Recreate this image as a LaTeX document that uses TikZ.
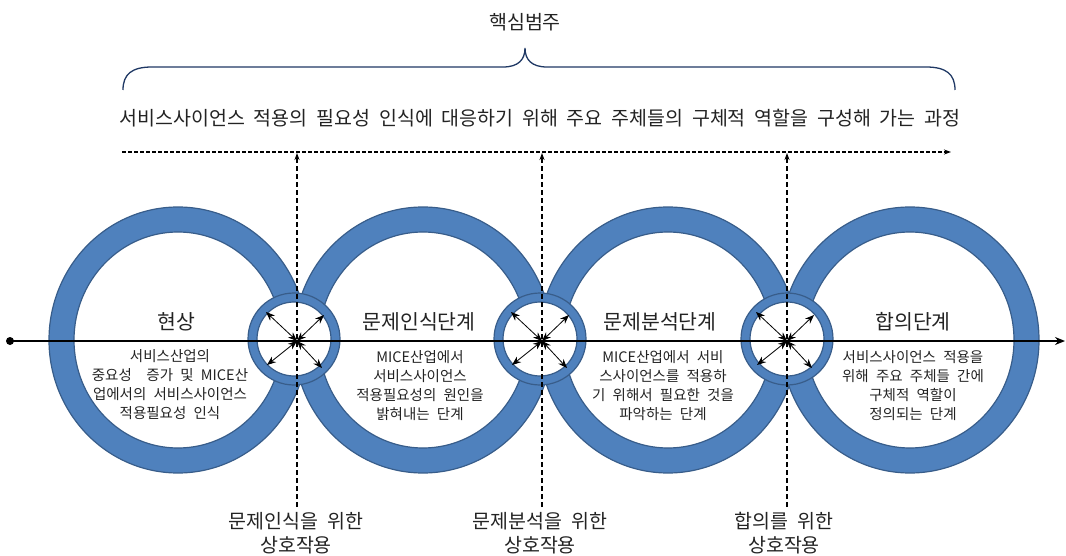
\documentclass[tikz,border=0pt]{standalone}
\usepackage{fontspec}
\setmainfont{Noto Sans CJK KR}
\usetikzlibrary{arrows.meta}
\definecolor{ringblue}{RGB}{79,129,189}
\definecolor{ringedge}{RGB}{56,93,138}
\definecolor{bracec}{RGB}{31,56,100}
\definecolor{txt}{RGB}{35,35,35}
\begin{document}
\begin{tikzpicture}[x=1pt,y=1pt,
  bigring/.style={fill=ringblue, draw=ringedge, line width=1.2pt, even odd rule},
  smallring/.style={fill=ringblue, draw=ringedge, line width=1.2pt, even odd rule},
  titletext/.style={inner sep=0pt, text=txt, font={\fontsize{20.5}{24}\selectfont\spaceskip=0.45em\relax}},
  bigtext/.style={inner sep=0pt, text=txt, align=center, font={\fontsize{19.5}{24}\selectfont\spaceskip=0.45em\relax}},
  bodytext/.style={inner sep=0pt, text=txt, align=center, font={\fontsize{14.5}{19}\selectfont\spaceskip=0.5em\relax}},
  dashv/.style={line width=1.1pt, dash pattern=on 5pt off 3pt, -{Stealth[length=7pt,width=5pt]}},
  dashh/.style={line width=1.1pt, dash pattern=on 4pt off 2pt, -{Stealth[length=7pt,width=5pt]}},
  dbl/.style={line width=0.8pt, draw=black, {Stealth[length=9pt,width=7pt]}-{Stealth[length=9pt,width=7pt]}}
]
\useasboundingbox (0,0) rectangle (1066,-556);

% big rings
\foreach \cx in {178,423,668,910}{
  \path[bigring] (\cx,-340) ellipse [x radius=129, y radius=133]
                 (\cx,-340) ellipse [x radius=104, y radius=108];
}
% small rings
\foreach \cx in {294,540,787}{
  \path[fill=white] (\cx,-339) circle [radius=45];
  \path[smallring] (\cx,-339) circle [radius=46] (\cx,-339) circle [radius=37];
}

% main horizontal line
\coordinate (lstart) at (10,-341);
\coordinate (lend) at (1065,-341);
\fill (lstart) circle [radius=4];
\draw[line width=1.8pt, -{Stealth[length=10pt,width=8pt]}] (lstart) -- (lend);

% dashed top arrow
\coordinate (hs) at (122,-152);
\coordinate (he) at (951,-152);
\draw[dashh] (hs) -- (he);

% vertical dashed lines
\foreach \vx/\nm in {297/a,542/b,787/c}{
  \coordinate (vb\nm) at (\vx,-507);
  \coordinate (vt\nm) at (\vx,-153);
  \draw[dashv] (vb\nm) -- (vt\nm);
  \coordinate (c\nm) at (\vx,-341);
  \draw[dbl] (c\nm) -- ++(-31,29);
  \draw[dbl] (c\nm) -- ++(27,26);
  \draw[dbl] (c\nm) -- ++(-30,-24);
  \draw[dbl] (c\nm) -- ++(25,-27);
}

% brace
\draw[bracec, line width=1.3pt]
  (123,-90) .. controls (123,-74) and (132,-67) .. (152,-67) -- (503,-67)
  .. controls (518,-67) and (525,-60) .. (525,-48)
  .. controls (525,-60) and (532,-67) .. (547,-67) -- (926,-67)
  .. controls (946,-67) and (955,-74) .. (955,-90);

% texts
\node[bigtext] (core) at (525,-22) {핵심범주};
\node[bigtext] (sent) at (540,-118) {서비스사이언스 적용의 필요성 인식에 대응하기 위해 주요 주체들의 구체적 역할을 구성해 가는 과정};

\node[titletext] (t1) at (176,-322) {현상};
\node[titletext] (t2) at (419,-322) {문제인식단계};
\node[titletext] (t3) at (660,-322) {문제분석단계};
\node[titletext] (t4) at (913,-322) {합의단계};

\node[bodytext] (b1) at (170,-385) {서비스산업의\\중요성\ \ 증가 및 MICE산\\업에서의 서비스사이언스\\적용필요성 인식};
\node[bodytext] (b2) at (420,-386) {MICE산업에서\\서비스사이언스\\적용필요성의 원인을\\밝혀내는 단계};
\node[bodytext] (b3) at (663,-386) {MICE산업에서 서비\\스사이언스를 적용하\\기 위해서 필요한 것을\\파악하는 단계};
\node[bodytext] (b4) at (913,-386) {서비스사이언스 적용을\\위해 주요 주체들 간에\\구체적 역할이\\정의되는 단계};

\node[bigtext] (l1) at (296,-533) {문제인식을 위한\\상호작용};
\node[bigtext] (l2) at (540,-533) {문제분석을 위한\\상호작용};
\node[bigtext] (l3) at (784,-533) {합의를 위한\\상호작용};
\end{tikzpicture}
\end{document}
